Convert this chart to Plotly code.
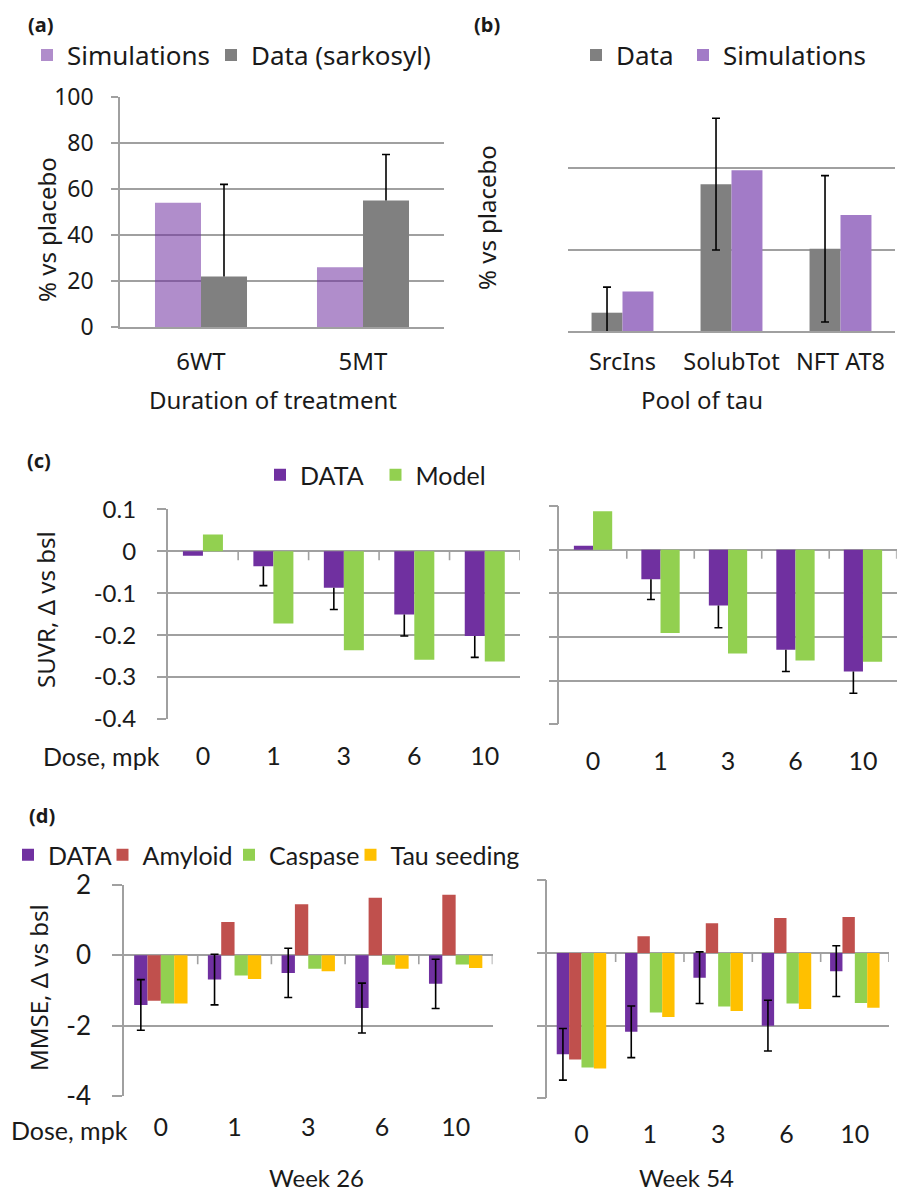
import plotly.graph_objects as go

W, H = 899, 1192


def fx(p):
    return p / W


def fy(p):
    return 1 - p / H


# ---------------- data ----------------
a_cats = ["6WT", "5MT"]
a_sim = [54, 26]
a_data = [22, 55]
a_data_err = [40, 20]

b_cats = ["SrcIns", "SolubTot", "NFT AT8"]
b_data = [4.5, 36.1, 20.2]
b_data_err = [6.3, 16.2, 18.0]
b_sim = [9.7, 39.5, 28.5]

doses = ["0", "1", "3", "6", "10"]
c26_data = [-0.011, -0.036, -0.087, -0.151, -0.202]
c26_err = [0, 0.046, 0.052, 0.051, 0.051]
c26_model = [0.040, -0.172, -0.236, -0.259, -0.263]
c54_data = [0.009, -0.068, -0.128, -0.229, -0.279]
c54_err = [0, 0.046, 0.051, 0.050, 0.050]
c54_model = [0.088, -0.191, -0.238, -0.254, -0.257]

d26_data = [-1.41, -0.69, -0.50, -1.50, -0.81]
d26_err = [0.72, 0.72, 0.70, 0.71, 0.70]
d26_amyloid = [-1.29, 0.95, 1.45, 1.64, 1.72]
d26_caspase = [-1.37, -0.57, -0.38, -0.27, -0.26]
d26_tau = [-1.37, -0.67, -0.45, -0.38, -0.36]
d54_data = [-2.79, -2.17, -0.68, -2.00, -0.50]
d54_err = [0.71, 0.71, 0.71, 0.70, 0.70]
d54_amyloid = [-2.93, 0.46, 0.82, 0.96, 0.99]
d54_caspase = [-3.15, -1.64, -1.47, -1.39, -1.38]
d54_tau = [-3.18, -1.76, -1.60, -1.54, -1.51]

c_ticks = [0.1, 0, -0.1, -0.2, -0.3, -0.4]
d_ticks = [2, 0, -2, -4]

# ---------------- style ----------------
PURPLE = "#7030A0"
GREEN = "#92D050"
RED = "#C0504D"
YELLOW = "#FFC000"
GRAYBAR = "#808080"
A_SIM = "rgba(112,48,160,0.55)"
B_SIM = "#A27BC7"
GRID = "#A0A0A0"
TXT = "#1a1a1a"
LW = 1.6
FA = "Noto Sans"
FC = "Lato"

W2 = 0.284   # bar width for two-bar groups
W4 = 0.181   # bar width for four-bar groups

fig = go.Figure()


def bar(x, y, name, color, ax, offset, width, legend=None, showlegend=True,
        error=None, legendwidth=None):
    kw = {}
    if legendwidth is not None:
        kw["legendwidth"] = legendwidth
    fig.add_trace(go.Bar(
        x=x, y=y, name=name, marker=dict(color=color, line=dict(width=0)),
        offset=offset, width=width, xaxis="x" + ax, yaxis="y" + ax,
        legend=legend, showlegend=showlegend, error_y=error, **kw))


def one_sided(x, base, err, sign, ax, offset, width):
    # caps of one-sided error bars (the stem is drawn by the data bar itself)
    y = [v + sign * e if e else None for v, e in zip(base, err)]
    fig.add_trace(go.Bar(
        x=x, y=y, marker=dict(color="rgba(0,0,0,0)", line=dict(width=0)),
        offset=offset, width=width, xaxis="x" + ax, yaxis="y" + ax,
        showlegend=False, hoverinfo="skip",
        error_y=dict(type="data", array=[0] * len(x), width=4,
                     thickness=LW, color="black")))


def stem(plus, minus):
    return dict(type="data", symmetric=False, array=plus, arrayminus=minus,
                width=0, thickness=LW, color="black")


def sym(err):
    return dict(type="data", array=err, width=4, thickness=LW, color="black")


# (a)
bar(a_cats, a_sim, "Simulations", A_SIM, "", -W2, W2, legend="legend",
    legendwidth=139)
bar(a_cats, a_data, "Data (sarkosyl)", GRAYBAR, "", 0, W2, legend="legend",
    error=stem(a_data_err, [0] * len(a_cats)))
one_sided(a_cats, a_data, a_data_err, 1, "", 0, W2)

# (b)
bar(b_cats, b_data, "Data", GRAYBAR, "2", -W2, W2, legend="legend2",
    error=sym(b_data_err), legendwidth=62)
bar(b_cats, b_sim, "Simulations", B_SIM, "2", 0, W2, legend="legend2")

# (c)
bar(doses, c26_data, "DATA", PURPLE, "3", -W2, W2, legend="legend3",
    error=stem([0] * 5, c26_err), legendwidth=70.5)
one_sided(doses, c26_data, c26_err, -1, "3", -W2, W2)
bar(doses, c26_model, "Model", GREEN, "3", 0, W2, legend="legend3")
bar(doses, c54_data, "DATA", PURPLE, "4", -W2, W2, showlegend=False,
    error=stem([0] * 5, c54_err))
one_sided(doses, c54_data, c54_err, -1, "4", -W2, W2)
bar(doses, c54_model, "Model", GREEN, "4", 0, W2, showlegend=False)

# (d)
d_names = ["DATA", "Amyloid", "Caspase", "Tau seeding"]
d_cols = [PURPLE, RED, GREEN, YELLOW]
d_lw = [49.5, 81.5, 76.5, None]
for k, (series, ax) in enumerate([
        ([d26_data, d26_amyloid, d26_caspase, d26_tau], "5"),
        ([d54_data, d54_amyloid, d54_caspase, d54_tau], "6")]):
    errs = d26_err if ax == "5" else d54_err
    for i, (nm, col, s) in enumerate(zip(d_names, d_cols, series)):
        bar(doses, s, nm, col, ax, -2 * W4 + i * W4, W4, legend="legend4",
            showlegend=(k == 0), error=sym(errs) if i == 0 else None,
            legendwidth=d_lw[i] if k == 0 else None)

# ---------------- axes ----------------
def xaxis(x0, x1, anchor, n, fam, size, standoff):
    return dict(domain=[fx(x0), fx(x1)], anchor=anchor, type="category",
                range=[-0.5, n - 0.5], showgrid=False, zeroline=False,
                ticks="", ticklen=0, showline=False,
                tickfont=dict(family=fam, size=size, color=TXT),
                ticklabelstandoff=standoff, fixedrange=True)


def yaxis(top, bottom, anchor, rng, ticks, labels, ticklen, line, fam, size,
          standoff, zero):
    d = dict(domain=[fy(bottom), fy(top)], anchor=anchor, range=rng,
             tickmode="array", tickvals=ticks,
             ticktext=["%g" % v for v in ticks],
             showgrid=True, gridcolor=GRID, gridwidth=LW,
             showticklabels=labels, showline=line, linecolor=GRID,
             linewidth=LW, zeroline=zero, zerolinecolor=GRID,
             zerolinewidth=LW, fixedrange=True,
             tickfont=dict(family=fam, size=size, color=TXT),
             ticklabelstandoff=standoff)
    if ticklen:
        d.update(ticks="outside", ticklen=ticklen, tickcolor=GRID,
                 tickwidth=LW)
    else:
        d.update(ticks="")
    return d


xa = xaxis(120, 444, "y", 2, FA, 24, 12)
xa.update(showline=True, linecolor=GRID, linewidth=LW)
xb = xaxis(568, 895, "y2", 3, FA, 23.5, 9)
xb.update(showline=True, linecolor=GRID, linewidth=LW)

fig.update_layout(
    xaxis=xa,
    yaxis=yaxis(97, 327, "x", [0, 100], [0, 20, 40, 60, 80, 100], True, 7,
                True, FA, 23, 13, False),
    xaxis2=xb,
    yaxis2=yaxis(87, 331, "x2", [0, 60], [0, 20, 40, 60], False, 0, False,
                 FA, 23, 0, False),
    xaxis3=xaxis(167.7, 520, "y3", 5, FC, 25, 20),
    yaxis3=yaxis(509.3, 719, "x3", [-0.4, 0.1], c_ticks, True, 9, True, FC,
                 24, 16, True),
    xaxis4=xaxis(559.3, 896.7, "y4", 5, FC, 25, 20),
    yaxis4=yaxis(506, 724.3, "x4", [-0.4, 0.1], c_ticks, False, 9, True, FC,
                 24, 0, True),
    xaxis5=xaxis(124, 492.5, "y5", 5, FC, 25, 14),
    yaxis5=yaxis(885, 1096, "x5", [-4, 2], d_ticks, True, 10, True, FC, 26,
                 16, True),
    xaxis6=xaxis(547.3, 889, "y6", 5, FC, 25, 19),
    yaxis6=yaxis(880.3, 1098.3, "x6", [-4, 2], d_ticks, False, 9, True, FC,
                 26, 0, True),
)

# tick marks on the zero lines (category boundaries)
shapes = []
for ax in ["3", "4", "5", "6"]:
    for i in range(len(doses)):
        shapes.append(dict(type="line", xref="x" + ax, yref="y" + ax,
                           x0=i + 0.5, x1=i + 0.5, ysizemode="pixel",
                           yanchor=0, y0=0, y1=-9,
                           line=dict(color=GRID, width=LW)))

# ---------------- text ----------------
def ann(text, x, y, size, fam=FA, angle=0, xanchor="center", bold=False):
    return dict(text=("<b>%s</b>" % text) if bold else text,
                x=fx(x), y=fy(y), xref="paper", yref="paper",
                xanchor=xanchor, yanchor="middle", showarrow=False,
                textangle=angle, font=dict(family=fam, size=size, color=TXT))


annotations = [
    ann("(a)", 26, 25, 20, xanchor="left", bold=True),
    ann("(b)", 472, 25, 20, xanchor="left", bold=True),
    ann("(c)", 25, 460, 20, xanchor="left", bold=True),
    ann("(d)", 27, 815, 20, xanchor="left", bold=True),
    ann("% vs placebo", 46, 230, 24, angle=-90),
    ann("% vs placebo", 487, 218, 24, angle=-90),
    ann("Duration of treatment", 273, 399, 24),
    ann("Pool of tau", 702, 399, 24),
    ann("SUVR, Δ vs bsl", 45, 610, 24, angle=-90),
    ann("MMSE, Δ vs bsl", 38, 988, 24, angle=-90),
    ann("Dose, mpk", 162, 756, 25, fam=FC, xanchor="right"),
    ann("Dose, mpk", 130, 1130, 25, fam=FC, xanchor="right"),
    ann("Week 26", 316, 1177, 24, fam=FC),
    ann("Week 54", 686, 1177, 24, fam=FC),
]


def legend(x, y, fam, size):
    return dict(x=fx(x), y=fy(y), xanchor="left", yanchor="middle",
                orientation="h", bgcolor="rgba(0,0,0,0)", borderwidth=0,
                font=dict(family=fam, size=size, color=TXT),
                itemclick=False, itemdoubleclick=False)


fig.update_layout(
    width=W, height=H,
    margin=dict(l=0, r=0, t=0, b=0, pad=0, autoexpand=False),
    paper_bgcolor="white", plot_bgcolor="white",
    barmode="overlay", showlegend=True,
    legend=legend(27, 55, FA, 26),
    legend2=legend(576, 55, FA, 26),
    legend3=legend(260, 475, FC, 25),
    legend4=legend(8, 855, FC, 25),
    annotations=annotations, shapes=shapes,
    font=dict(family=FA, color=TXT),
)

fig.write_html("out.html", config={"displayModeBar": False},
               post_script="document.body.style.margin='0';"
                           "document.body.style.overflow='hidden';")
